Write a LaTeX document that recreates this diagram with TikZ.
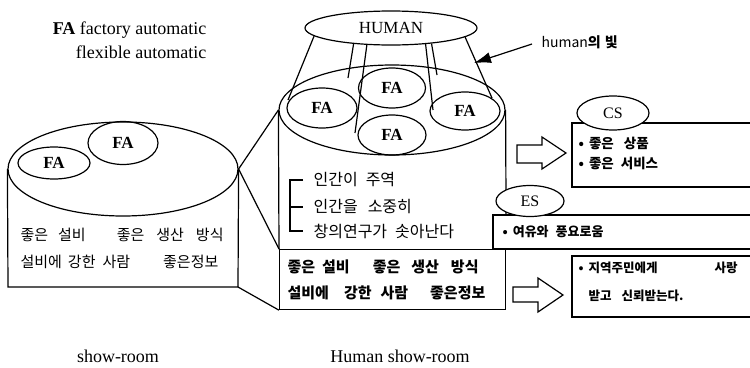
\documentclass[tikz,border=0pt]{standalone}
\usepackage{fontspec}
\setmainfont{Liberation Serif}
\newfontfamily\kr{Noto Sans CJK KR}
\usetikzlibrary{shapes.geometric,arrows.meta}
\newcommand\gp[1]{\hspace{#1pt}}
\begin{document}
\begin{tikzpicture}[x=1pt,y=-1pt,line width=1.2pt,
  oval/.style={ellipse,draw,inner sep=0pt},
  fa/.style={oval,font=\bfseries\fontsize{17}{17}\selectfont},
  latin/.style={inner sep=0pt,font=\fontsize{18}{18}\selectfont},
  krt/.style={inner sep=0pt,anchor=west,font=\kr\fontsize{#1}{#1}\selectfont},
  krb/.style={inner sep=0pt,anchor=west,font=\kr\bfseries\fontsize{#1}{#1}\selectfont},
  blockarrow/.style={draw,line join=miter}]
\useasboundingbox (0,0) rectangle (750,367);

% heading
\node[latin,anchor=base east] (h1) at (207,34) {\textbf{FA} factory automatic};
\node[latin,anchor=base east] (h2) at (207,58) {flexible automatic};

% ---- left cylinder: show-room
\node[oval,minimum width=230pt,minimum height=94pt] (ltop) at (123,169) {};
\coordinate (lbl) at (8,287);
\coordinate (lbr) at (238,287);
\draw (ltop.west) -- (lbl) -- (lbr) -- (ltop.east);
\node[fa,minimum width=72pt,minimum height=32pt] (lfa1) at (54,163) {FA};
\node[fa,minimum width=70pt,minimum height=43pt] (lfa2) at (123,143) {FA};
\node[krt=15] (lk1) at (20,235) {좋은\gp{10}설비\gp{31}좋은\gp{12}생산\gp{12}방식};
\node[krt=15] (lk2) at (20,262) {설비에\gp{6}강한\gp{7}사람\gp{33}좋은정보};
\node[latin] (lcap) at (118,356) {show-room};

% ---- right cylinder: Human show-room
\node[oval,minimum width=226pt,minimum height=90pt] (rtop) at (392,110) {};
\node[draw,inner sep=0pt,anchor=north west,minimum width=226pt,minimum height=60pt] (rbase) at (279,249) {};
\draw (rtop.west) -- (rbase.north west);
\draw (rtop.east) -- (rbase.north east);
\node[fa,minimum width=70pt,minimum height=40pt] (rfa1) at (322,108) {FA};
\node[fa,minimum width=67pt,minimum height=40pt] (rfa2) at (392,88) {FA};
\node[fa,minimum width=68pt,minimum height=40pt] (rfa3) at (392,135) {FA};
\node[fa,minimum width=70pt,minimum height=38pt] (rfa4) at (465,111) {FA};
\node[latin] (rcap) at (400,356) {Human show-room};

% perspective edges between the two cylinders
\draw (ltop.east) -- (rtop.west);
\draw (ltop.east) -- (rbase.north west);
\draw (lbr) -- (rbase.south west);

% bracketed list
\draw (303,180) -- (290,180) -- (290,231) -- (303,231);
\draw (290,207) -- (303,207);
\node[krt=16] (b1) at (313,180) {인간이\gp{8}주역};
\node[krt=16] (b2) at (313,207) {인간을\gp{10}소중히};
\node[krt=16] (b3) at (313,231) {창의연구가\gp{8}솟아난다};

% base box text
\node[krb=15] (bb1) at (287,267) {좋은\gp{7}설비\gp{23}좋은\gp{11}생산\gp{12}방식};
\node[krb=15] (bb2) at (287,293) {설비에\gp{15}강한\gp{9}사람\gp{22}좋은정보};

% HUMAN and its rays
\node[oval,minimum width=172pt,minimum height=34pt,font=\fontsize{17}{17}\selectfont] (human) at (391,28) {HUMAN};
\coordinate (r1) at (288,100);
\coordinate (r2) at (348,78);
\coordinate (r3) at (355,133);
\coordinate (r4) at (433,110);
\coordinate (r5) at (437,75);
\coordinate (r6) at (492,98);
\draw (human.186) -- (r1);
\draw (human.203) -- (r2);
\draw (human.215) -- (r3);
\draw (human.335) -- (r4);
\draw (human.339) -- (r5);
\draw (human.353) -- (r6);

% label of the rays
\node[inner sep=0pt,anchor=west,font=\kr\fontsize{14}{14}\selectfont] (hl) at (541,42) {human\textbf{의\gp{4}빛}};
\coordinate (ha) at (532,44);
\coordinate (hb) at (474,63);
\draw[-{Latex[length=17pt,width=11pt]}] (ha) -- (hb);

% CS box
\draw (750,123) -- (572,123) -- (572,187) -- (750,187);
\node[oval,fill=white,minimum width=72pt,minimum height=34pt,font=\fontsize{16}{16}\selectfont] (cs) at (613,113) {CS};
\node[krb=13.5] (cs1) at (578,143) {•\gp{5}좋은\gp{10}상품};
\node[krb=13.5] (cs2) at (578,163) {•\gp{5}좋은\gp{7}서비스};

% ES box
\fill[white] (493,215) rectangle (750,249);
\draw (750,215) -- (493,215) -- (493,249) -- (750,249);
\node[oval,fill=white,minimum width=68pt,minimum height=31pt,font=\fontsize{16}{16}\selectfont] (es) at (530,201) {ES};
\node[krb=13] (es1) at (502,232) {•\gp{5}여유와\gp{7}풍요로움};

% lower right box
\draw (750,256) -- (572,256) -- (572,317) -- (750,317);
\node[krb=12.5] (lr1) at (578,268) {•\gp{5}지역주민에게\gp{57}사랑};
\node[krb=12.5] (lr2) at (588,296) {받고\gp{10}신뢰받는다.};

% hollow block arrows
\draw[blockarrow] (517,145) -- (542,145) -- (542,137) -- (566,153) -- (542,169) -- (542,163) -- (517,163) -- cycle;
\draw[blockarrow] (513,287) -- (538,287) -- (538,278) -- (563,295) -- (538,312) -- (538,302) -- (513,302) -- cycle;
\end{tikzpicture}
\end{document}
